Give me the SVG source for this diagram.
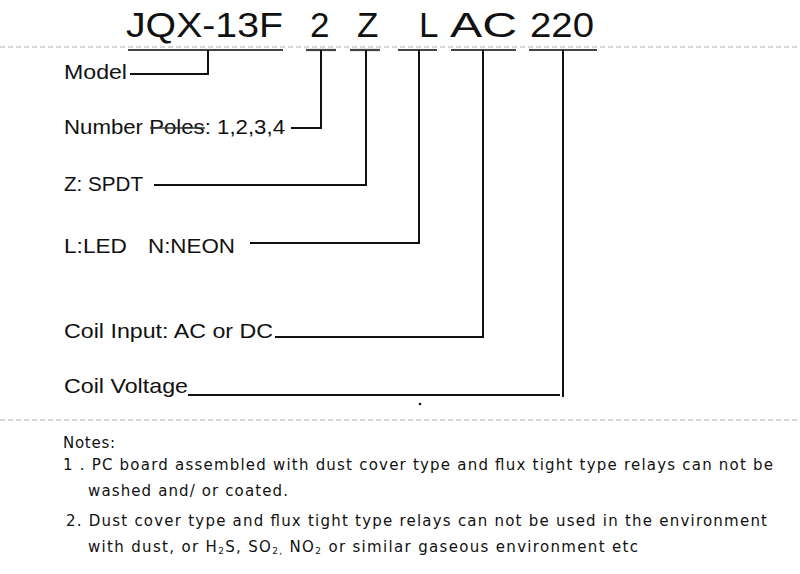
<svg xmlns="http://www.w3.org/2000/svg" width="800" height="574" viewBox="0 0 800 574">
<style>
.title{font-family:"Liberation Sans",Arial,sans-serif;font-size:35px;fill:#111}
.lbl{font-family:"Liberation Sans",Arial,sans-serif;font-size:21px;fill:#111}
.note{font-family:"DejaVu Sans",Verdana,sans-serif;font-size:15px;fill:#111}
.sub{font-size:9px}
.dash{stroke:#b0b0b0;stroke-width:1.2;stroke-dasharray:5,3;fill:none}
.ul{stroke:#444;stroke-width:2.2;fill:none}
.con{stroke:#111;stroke-width:2;fill:none}
</style>
<rect width="800" height="574" fill="#fff"/>
<line class="dash" x1="0" y1="47" x2="800" y2="47"/>
<line class="dash" x1="0" y1="420" x2="800" y2="420"/>
<g id="title">
<text class="title" x="126" y="37" textLength="157" lengthAdjust="spacingAndGlyphs">JQX-13F</text>
<text class="title" x="310" y="37">2</text>
<text class="title" x="357" y="37">Z</text>
<text class="title" x="419" y="37">L</text>
<text class="title" x="450" y="37" textLength="67" lengthAdjust="spacingAndGlyphs">AC</text>
<text class="title" x="530" y="37" textLength="64" lengthAdjust="spacingAndGlyphs">220</text>
</g>
<g id="underlines">
<line class="ul" x1="128" y1="50" x2="283" y2="50"/>
<line class="ul" x1="306" y1="50" x2="336" y2="50"/>
<line class="ul" x1="350" y1="50" x2="380" y2="50"/>
<line class="ul" x1="398" y1="50" x2="437" y2="50"/>
<line class="ul" x1="451" y1="50" x2="516" y2="50"/>
<line class="ul" x1="529" y1="50" x2="597" y2="50"/>
</g>
<g id="model"><text class="lbl" x="64" y="79" textLength="63" lengthAdjust="spacingAndGlyphs">Model</text></g>
<g id="poles"><text class="lbl" x="64" y="134" textLength="221" lengthAdjust="spacingAndGlyphs">Number Poles: 1,2,3,4</text></g>
<g id="spdt"><text class="lbl" x="64" y="191" textLength="79" lengthAdjust="spacingAndGlyphs">Z: SPDT</text></g>
<g id="led"><text class="lbl" x="64" y="253" textLength="63" lengthAdjust="spacingAndGlyphs">L:LED</text><text class="lbl" x="148" y="253" textLength="87" lengthAdjust="spacingAndGlyphs">N:NEON</text></g>
<g id="coilinput"><text class="lbl" x="64" y="338" textLength="209" lengthAdjust="spacingAndGlyphs">Coil Input: AC or DC</text></g>
<g id="coilvoltage"><text class="lbl" x="64" y="393" textLength="124" lengthAdjust="spacingAndGlyphs">Coil Voltage</text></g>
<g id="connectors">
<polyline class="con" points="130,74 208,74 208,50"/>
<line x1="150" y1="128" x2="205" y2="128" stroke="#333" stroke-width="1.5"/>
<polyline class="con" points="291,128 321,128 321,50"/>
<polyline class="con" points="154,185 366,185 366,50"/>
<polyline class="con" points="250,243 419,243 419,50"/>
<polyline class="con" points="275,337 483,337 483,50"/>
<polyline class="con" points="188,395 560,395"/>
<line class="con" x1="563" y1="50" x2="563" y2="397"/>
<circle cx="420" cy="404" r="1.3" fill="#111"/>
</g>
<g id="notes">
<text class="note" x="63" y="448" textLength="52" lengthAdjust="spacing">Notes:</text>
<text class="note" x="63" y="470" textLength="710" lengthAdjust="spacing">1  .  PC  board  assembled  with  dust  cover  type  and  flux  tight  type  relays  can  not  be</text>
<text class="note" x="88" y="496" textLength="200" lengthAdjust="spacing">washed  and/ or  coated.</text>
<text class="note" x="66" y="526" textLength="701" lengthAdjust="spacing">2. Dust cover type and flux tight type relays can not be used in the environment</text>
<text class="note" x="88" y="552" textLength="550" lengthAdjust="spacing">with dust, or H<tspan class="sub" dy="2">2</tspan><tspan dy="-2">S, SO</tspan><tspan class="sub" dy="2">2,</tspan><tspan dy="-2"> NO</tspan><tspan class="sub" dy="2">2</tspan><tspan dy="-2"> or similar gaseous environment etc</tspan></text>
</g>
</svg>
